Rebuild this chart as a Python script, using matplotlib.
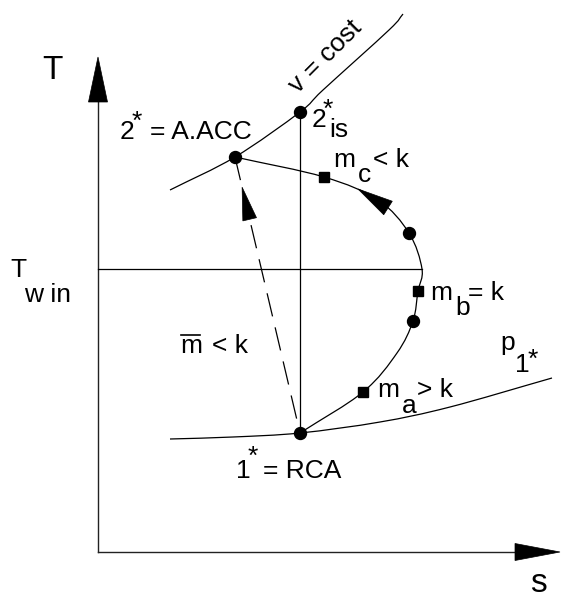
import numpy as np
import matplotlib
matplotlib.use("Agg")
import matplotlib.pyplot as plt
from matplotlib.path import Path
from matplotlib.patches import PathPatch, Polygon

# Diagram coordinates (s to the right, T downward in drawing units)
STATE_1 = (300, 433)      # 1* = RCA
STATE_2 = (235, 157)      # 2* = A.ACC
STATE_2IS = (300, 112)    # 2*is

# process line 1* -> 2* (through the compression states)
proc_s = [300, 363, 397, 413, 418, 422, 409, 378, 324, 235]
proc_T = [433, 392, 353, 321, 291, 269, 233, 200, 177, 157]

# isochore v = cost
iso_v_s = [170, 235, 300, 323, 389, 403]
iso_v_T = [190, 157, 112, 90, 30, 14]

# isobar p1*
iso_p_s = [170, 233, 300, 380, 450, 552]
iso_p_T = [439, 437, 433, 422, 407, 378]

# marked states on the process line
dot_s = [413, 409]
dot_T = [321, 233]
sq_s = [363, 418, 324]
sq_T = [392, 291, 177]

T_WIN = 269
AXIS_ORIGIN = (98, 552)
AXIS_S_END = 560
AXIS_T_END = 57

FONT = "Liberation Sans"
INK = "black"
FS = 19


def smooth_path(xs, ys):
    """Catmull-Rom through the points, expressed as cubic Bezier segments."""
    P = np.column_stack([xs, ys]).astype(float)
    P_ext = np.vstack([P[0] * 2 - P[1], P, P[-1] * 2 - P[-2]])
    verts = [P[0]]
    codes = [Path.MOVETO]
    for i in range(1, len(P_ext) - 2):
        p0, p1, p2, p3 = P_ext[i - 1], P_ext[i], P_ext[i + 1], P_ext[i + 2]
        c1 = p1 + (p2 - p0) / 6.0
        c2 = p2 - (p3 - p1) / 6.0
        verts += [c1, c2, p2]
        codes += [Path.CURVE4] * 3
    return Path(verts, codes)


def arrow_head(ax, tip, base_mid, half_w):
    tip = np.array(tip, float)
    base_mid = np.array(base_mid, float)
    d = tip - base_mid
    n = np.array([-d[1], d[0]]) / np.hypot(*d)
    pts = [tip, base_mid + n * half_w, base_mid - n * half_w]
    ax.add_patch(Polygon(pts, closed=True, facecolor=INK, edgecolor=INK,
                         lw=0.5, zorder=5))


fig = plt.figure(figsize=(5.61, 5.99), dpi=100)
ax = fig.add_axes([0, 0, 1, 1])
ax.set_xlim(0, 561)
ax.set_ylim(599, 0)
ax.axis("off")

# axes of the T-s plane
ox, oy = AXIS_ORIGIN
ax.plot([ox, ox], [oy, AXIS_T_END + 20], color="#222222", lw=1.0)
ax.plot([ox, AXIS_S_END - 20], [oy, oy], color="#222222", lw=1.0)
arrow_head(ax, (ox, AXIS_T_END), (ox, AXIS_T_END + 45), 9.5)
arrow_head(ax, (AXIS_S_END, oy), (AXIS_S_END - 45, oy), 8.5)

# curves
lw = 0.9
for xs, ys in [(proc_s, proc_T), (iso_v_s, iso_v_T), (iso_p_s, iso_p_T)]:
    ax.add_patch(PathPatch(smooth_path(xs, ys), fill=False,
                           edgecolor=INK, lw=lw, zorder=3))

# isentropic compression and T_w,in level
ax.plot([STATE_1[0], STATE_2IS[0]], [STATE_1[1], STATE_2IS[1]],
        color=INK, lw=lw, zorder=3)
ax.plot([ox, max(proc_s)], [T_WIN, T_WIN], color=INK, lw=lw, zorder=3)

# mean polytropic (dashed) 1* -> 2*
ax.plot([STATE_2[0], STATE_1[0]], [STATE_2[1], STATE_1[1]], color=INK,
        lw=lw, dashes=(19, 9), dash_capstyle="butt", zorder=3)
u = np.subtract(STATE_2, STATE_1).astype(float)
u /= np.hypot(*u)
tip = np.array(STATE_2) - u * 31
arrow_head(ax, tip, tip - u * 33, 7)

# direction arrow on process line
arrow_head(ax, (358, 189), (388, 208), 8)

# state markers
ax.plot([STATE_1[0], STATE_2[0], STATE_2IS[0]] + dot_s,
        [STATE_1[1], STATE_2[1], STATE_2IS[1]] + dot_T,
        "o", color=INK, ms=8.6, zorder=6)
ax.plot(sq_s, sq_T, "s", color=INK, ms=7.0, zorder=6)


def label(x, y, s, size=FS, **kw):
    ax.text(x, y, s, fontsize=size, family=FONT, color=INK,
            ha=kw.pop("ha", "left"), va=kw.pop("va", "baseline"), **kw)


# axis titles
label(42, 79, "T", 24)
label(530, 592, "s", 24)
label(10, 277, "T")
label(24, 302, "w in")

# 2* = A.ACC
label(120, 139, "2")
label(137, 110, "*", va="top", ha="center")
label(150, 139, "= A.ACC")

# v = cost
ax.text(326, 57, "v = cost", fontsize=FS, family=FONT, rotation=45,
        ha="center", va="center", rotation_mode="anchor")

# 2*is
label(312, 127, "2")
label(328, 98, "*", va="top", ha="center")
label(329, 137, "is")

# m_c < k
label(333, 167, "m")
label(358, 182, "c")
label(373, 167, "< k")

# m_b = k
label(430, 300, "m")
label(455, 315, "b")
label(468, 300, "= k")

# m_a > k
label(377, 397, "m")
label(402, 413, "a")
label(417, 397, "> k")

# p1*
label(500, 350, "p")
label(515, 372, "1")
label(533, 348, "*", va="top", ha="center")

# mean exponent
label(180, 353, "m")
ax.plot([181, 200], [335, 335], color=INK, lw=1.2)
label(212, 353, "< k")

# 1* = RCA
label(236, 478, "1")
label(253, 445, "*", va="top", ha="center")
label(263, 478, "= RCA")

fig.savefig("out.png", dpi=100)
